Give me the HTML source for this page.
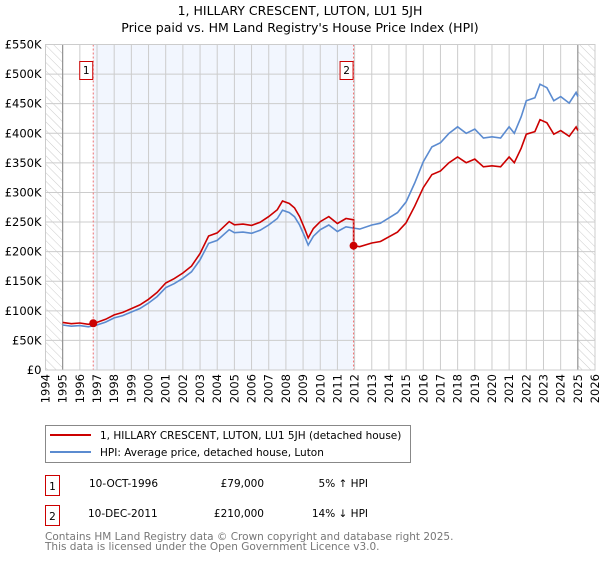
<!DOCTYPE html>
<html><head><meta charset="utf-8"><style>
body{margin:0;background:#fff;font-family:"DejaVu Sans","Liberation Sans",sans-serif;}
svg text{font-family:"DejaVu Sans","Liberation Sans",sans-serif;}
</style></head><body>
<svg id="chart" width="600" height="560" viewBox="0 0 600 560" xmlns="http://www.w3.org/2000/svg">
<defs>
<pattern id="hatch" width="6" height="6" patternUnits="userSpaceOnUse" patternTransform="rotate(-45)">
<line x1="0" y1="0" x2="0" y2="6" stroke="#ccc" stroke-width="1"/>
</pattern>
</defs>
<text x="300" y="15" text-anchor="middle" font-size="12.5">1, HILLARY CRESCENT, LUTON, LU1 5JH</text>
<text x="300" y="32" text-anchor="middle" font-size="12.5">Price paid vs. HM Land Registry's House Price Index (HPI)</text>
<g id="plot"></g>
<g>
<rect x="45.5" y="425.5" width="365" height="37" fill="#fff" stroke="#888"/>
<line x1="50" y1="435" x2="91" y2="435" stroke="#cc0000" stroke-width="2"/>
<text x="100" y="439" font-size="10.5">1, HILLARY CRESCENT, LUTON, LU1 5JH (detached house)</text>
<line x1="50" y1="452" x2="91" y2="452" stroke="#5b8bd0" stroke-width="2"/>
<text x="100" y="456" font-size="10.5">HPI: Average price, detached house, Luton</text>
</g>
<g font-size="10.5">
<rect x="45.5" y="475.5" width="14" height="20" fill="#fff" stroke="#cc0000"/>
<text x="52.5" y="490" text-anchor="middle">1</text>
<text x="89" y="487">10-OCT-1996</text>
<text x="264" y="487" text-anchor="end">£79,000</text>
<text x="368" y="487" text-anchor="end">5% ↑ HPI</text>
<rect x="45.5" y="505.5" width="14" height="20" fill="#fff" stroke="#cc0000"/>
<text x="52.5" y="520" text-anchor="middle">2</text>
<text x="88" y="517">10-DEC-2011</text>
<text x="264" y="517" text-anchor="end">£210,000</text>
<text x="368" y="517" text-anchor="end">14% ↓ HPI</text>
</g>
<text x="45" y="540" font-size="10.5" fill="#777">Contains HM Land Registry data © Crown copyright and database right 2025.</text>
<text x="45" y="550" font-size="10.5" fill="#777">This data is licensed under the Open Government Licence v3.0.</text>
</svg>
<script>
const hpiYears=[1995,1995.5,1996,1996.5,1997,1997.5,1998,1998.5,1999,1999.5,2000,2000.5,2001,2001.5,2002,2002.5,2003,2003.5,2004,2004.7,2005,2005.5,2006,2006.5,2007,2007.5,2007.8,2008.2,2008.5,2008.8,2009.1,2009.3,2009.6,2010,2010.5,2011,2011.5,2011.9,2012.3,2013,2013.5,2014,2014.5,2015,2015.5,2016,2016.5,2017,2017.5,2018,2018.5,2019,2019.5,2020,2020.5,2021,2021.3,2021.7,2022,2022.5,2022.8,2023.2,2023.6,2024,2024.5,2024.9,2025];
const hpiValues=[76,74,75,73,76,81,88,92,98,104,113,124,139,146,155,166,186,214,219,237,232,233,231,236,245,256,270,266,259,245,225,211,226,237,245,234,242,240,238,245,248,257,266,284,316,352,377,384,400,411,400,407,392,394,392,411,400,428,455,460,483,477,455,462,451,469,462];
const saleYears=[1996.78,2011.94];
const salePrices=[79,210];
const saleLabels=["1","2"];
const yTicks=[0,50,100,150,200,250,300,350,400,450,500,550];
const yTickLabels=["£0","£50K","£100K","£150K","£200K","£250K","£300K","£350K","£400K","£450K","£500K","£550K"];
const xTicks=[1994,1995,1996,1997,1998,1999,2000,2001,2002,2003,2004,2005,2006,2007,2008,2009,2010,2011,2012,2013,2014,2015,2016,2017,2018,2019,2020,2021,2022,2023,2024,2025,2026];

const X0=45.5,X1=595,Y0=370,Y1=44.5;
const xs=y=>X0+(y-1994)/(2026-1994)*(X1-X0);
const ys=v=>Y0-v/550*(Y0-Y1);
const NS="http://www.w3.org/2000/svg";
const plot=document.getElementById('plot');
function mk(tag,attrs,parent){const e=document.createElementNS(NS,tag);for(const k in attrs)e.setAttribute(k,attrs[k]);(parent||plot).appendChild(e);return e;}
function hpiAt(t){if(t<=hpiYears[0])return hpiValues[0];for(let i=1;i<hpiYears.length;i++){if(t<=hpiYears[i]){const f=(t-hpiYears[i-1])/(hpiYears[i]-hpiYears[i-1]);return hpiValues[i-1]+f*(hpiValues[i]-hpiValues[i-1]);}}return hpiValues[hpiValues.length-1];}

// shading
const sh=mk('rect',{x:xs(saleYears[0]),y:Y1,width:xs(saleYears[1])-xs(saleYears[0]),height:Y0-Y1,fill:'#eef3fd',opacity:0.75});


const h1=mk('rect',{x:X0,y:Y1,width:xs(1995)-X0,height:Y0-Y1,fill:'url(#hatch)'});


const h2=mk('rect',{x:xs(2025),y:Y1,width:X1-xs(2025),height:Y0-Y1,fill:'url(#hatch)'});


// grid
yTicks.forEach((v,i)=>{
 const g=mk('line',{x1:X0,x2:X1,y1:ys(v),y2:ys(v),stroke:'#ccc','stroke-width':1});
 
 
 const t=mk('text',{x:X0-4,y:ys(v)+4,'text-anchor':'end','font-size':11.5});
 
 
 t.textContent=yTickLabels[i];
});
xTicks.forEach(yr=>{
 const g=mk('line',{x1:xs(yr),x2:xs(yr),y1:Y1,y2:Y0,stroke:'#ccc','stroke-width':1});
 
 
 const t=mk('text',{x:0,y:0,'text-anchor':'end','font-size':11.5,transform:`translate(${xs(yr)+4},${Y0+4}) rotate(-90)`});
 
 
 t.textContent=yr;
});
[1995,2025].forEach(yr=>{const l=mk('line',{x1:xs(yr),x2:xs(yr),y1:Y1,y2:Y0,stroke:'#888','stroke-width':1});
 
 });
// hpi line
const hp=hpiYears.map((y,i)=>xs(y).toFixed(1)+','+ys(hpiValues[i]).toFixed(1)).join(' ');
const hl=mk('polyline',{points:hp,fill:'none',stroke:'#5b8bd0','stroke-width':1.6});


// property line: indexed from sales
const f1=salePrices[0]/hpiAt(saleYears[0]);
const f2=salePrices[1]/hpiAt(saleYears[1]);
let pts=[];
hpiYears.forEach((y,i)=>{if(y<saleYears[1])pts.push([y,hpiValues[i]*f1]);});
pts.push([saleYears[1],hpiAt(saleYears[1])*f1]);
pts.push([saleYears[1],salePrices[1]]);
hpiYears.forEach((y,i)=>{if(y>saleYears[1])pts.push([y,hpiValues[i]*f2]);});
const pl=mk('polyline',{points:pts.map(p=>xs(p[0]).toFixed(1)+','+ys(p[1]).toFixed(1)).join(' '),fill:'none',stroke:'#cc0000','stroke-width':1.6});


// sale markers
saleYears.forEach((y,i)=>{
 const l=mk('line',{x1:xs(y),x2:xs(y),y1:Y1,y2:Y0,stroke:'#f07070','stroke-width':1,'stroke-dasharray':'2,2'});
 
 
 const c=mk('circle',{cx:xs(y),cy:ys(salePrices[i]),r:4,fill:'#cc0000'});
 
 
 const b=mk('rect',{x:xs(y)-13.5,y:61.5,width:13,height:18,fill:'#fff',stroke:'#cc0000'});
 
 
 const t=mk('text',{x:xs(y)-7,y:74,'text-anchor':'middle','font-size':10.5});
 
 
 t.textContent=saleLabels[i];
});
const fr=mk('rect',{x:X0,y:Y1,width:X1-X0,height:Y0-Y1,fill:'none',stroke:'#ccc'});


</script>
</body></html>
